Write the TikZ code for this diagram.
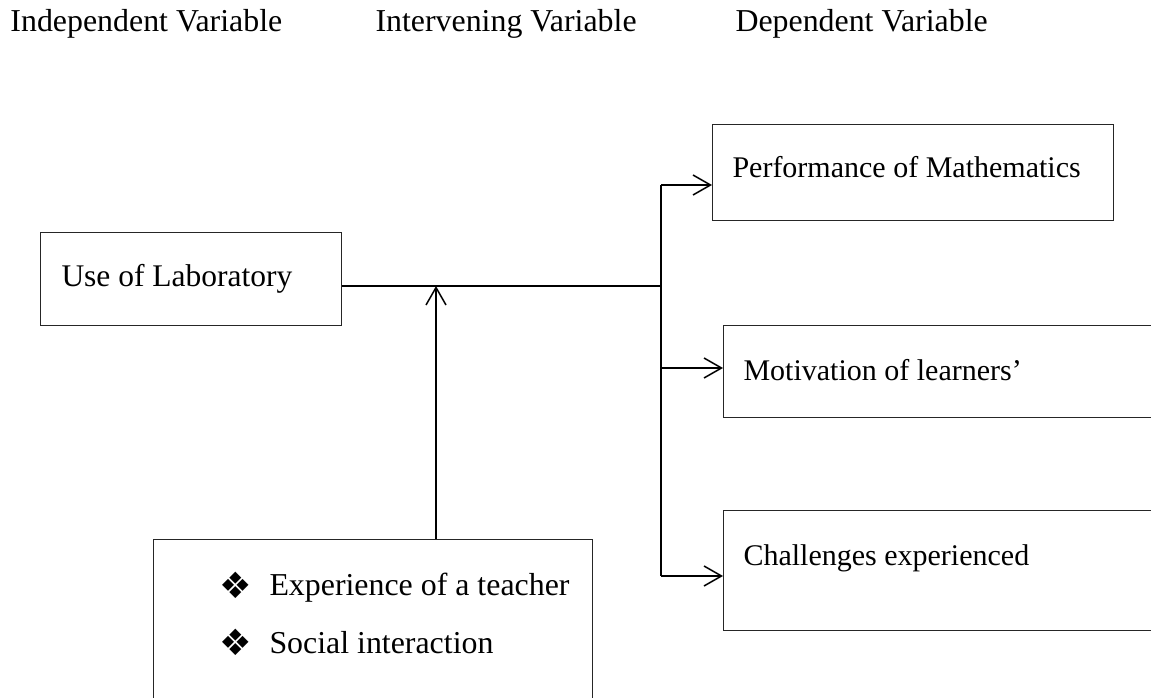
\documentclass[tikz,border=0pt]{standalone}
\usepackage{fontspec}
\setmainfont{Liberation Serif}
\newfontfamily\dvfont{DejaVu Sans}
\usetikzlibrary{arrows.meta}
\begin{document}
\begin{tikzpicture}[x=0.4pt,y=-0.4pt,
  every node/.style={font=\fontsize{12pt}{14pt}\selectfont},
  big/.style={font=\fontsize{12.75pt}{15pt}\selectfont},
  box/.style={draw=black!85, line width=0.45pt, rectangle, inner sep=0pt, anchor=north west},
  lbl/.style={anchor=base west, inner sep=0pt},
  bul/.style={anchor=center, inner sep=0pt, font=\dvfont\fontsize{14.5pt}{16pt}\selectfont},
  conn/.style={line width=0.6pt},
  arr/.style={line width=0.6pt, -{Straight Barb[length=7pt,width=8pt,line width=0.6pt]}}]
\useasboundingbox (0,0) rectangle (1151,698);
\clip (0,0) rectangle (1151,698);
% headers
\node[lbl, big] (h1) at (10,32) {Independent Variable};
\node[lbl, big] (h2) at (375,32) {Intervening Variable};
\node[lbl, big] (h3) at (735,32) {Dependent Variable};
% boxes
\node[box, minimum width=120.4pt, minimum height=37.2pt] (lab) at (40,232) {};
\node[lbl, font=\fontsize{12.6pt}{15pt}\selectfont] (labt) at (61,287) {Use of Laboratory};
\node[box, minimum width=160.4pt, minimum height=38.4pt] (perf) at (712,124) {};
\node[lbl] (perft) at (732,178) {Performance of Mathematics};
\node[box, minimum width=176.8pt, minimum height=36.8pt] (mot) at (723,325) {};
\node[lbl] (mott) at (743,380) {Motivation of learners’};
\node[box, minimum width=176.8pt, minimum height=48pt] (chal) at (723,510) {};
\node[lbl] (chalt) at (743,565) {Challenges experienced};
\node[box, minimum width=175.6pt, minimum height=72.4pt] (inter) at (153,539) {};
\node[bul] (b1) at (236,585) {❖};
\node[lbl, big] (i1) at (269,595) {Experience of a teacher};
\node[bul] (b2) at (236,642) {❖};
\node[lbl, big] (i2) at (269,653) {Social interaction};
% connectors
\coordinate (j) at (661,286);
\coordinate (m) at (436,286);
\coordinate (t) at (661,185);
\coordinate (c) at (661,368);
\coordinate (b) at (661,576);
\draw[conn] (lab.east |- j) -- (j);
\draw[conn] (t) -- (b);
\draw[arr] (t) -- (perf.west |- t);
\draw[arr] (c) -- (mot.west |- c);
\draw[arr] (b) -- (chal.west |- b);
\draw[arr] (m |- inter.north) -- (m);
\end{tikzpicture}
\end{document}
